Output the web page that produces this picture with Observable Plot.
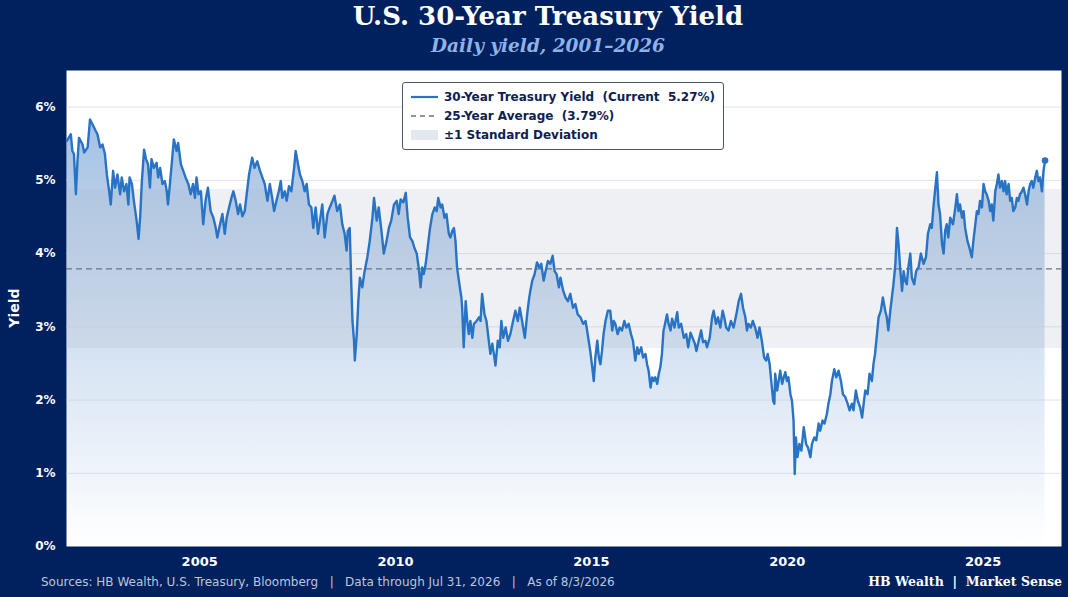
<!DOCTYPE html>
<html>
<head>
<meta charset="utf-8">
<script src="https://cdn.jsdelivr.net/npm/d3@7"></script>
<script src="https://cdn.jsdelivr.net/npm/@observablehq/plot@0.6"></script>
<style>
  html, body { margin: 0; padding: 0; }
  body { width: 1068px; height: 597px; overflow: hidden; position: relative; background: #00205e; font-family: "DejaVu Sans", sans-serif; }
  .abs { position: absolute; }
  #title { left: 0; width: 1096px; top: 1px; text-align: center; font: bold 26px "DejaVu Serif", serif; color: #ffffff; }
  #subtitle { left: 0; width: 1096px; top: 35px; text-align: center; font: italic bold 18.5px "DejaVu Serif", serif; color: #8fb2e6; }
  #chart { left: 0; top: 70px; }
  #ylabel { left: 14px; top: 308px; transform: translate(-50%, -50%) rotate(-90deg); font: bold 14px "DejaVu Sans", sans-serif; color: #fff; white-space: nowrap; }
  #legend { left: 402px; top: 82px; width: 320px; height: 66px; background: #fff; border: 1px solid #4a5568; border-radius: 3px; }
  .lrow { position: absolute; left: 0; height: 16px; width: 100%; }
  .lrow svg { position: absolute; left: 7px; top: 0; }
  .lrow span { position: absolute; left: 41px; top: 0; font: bold 12px "DejaVu Sans", sans-serif; color: #0d2150; white-space: pre; line-height: 16px; }
  #foot { left: 41px; top: 575px; font: 12px "DejaVu Sans", sans-serif; color: #bcc6dc; white-space: pre; }
  #brand { right: 6px; top: 574px; font: bold 12.5px "DejaVu Serif", serif; color: #fff; white-space: pre; }
</style>
</head>
<body>
<div id="title" class="abs">U.S. 30-Year Treasury Yield</div>
<div id="subtitle" class="abs">Daily yield, 2001–2026</div>
<div id="chart" class="abs"></div>
<div id="ylabel" class="abs">Yield</div>
<div id="legend" class="abs">
  <div class="lrow" style="top:6px"><svg width="30" height="16"><line x1="1" x2="28" y1="8" y2="8" stroke="#2873c4" stroke-width="2.2"/></svg><span>30-Year Treasury Yield  (Current  5.27%)</span></div>
  <div class="lrow" style="top:25px"><svg width="30" height="16"><line x1="1" x2="28" y1="8" y2="8" stroke="#6b7385" stroke-width="1.4" stroke-dasharray="5,4"/></svg><span>25-Year Average  (3.79%)</span></div>
  <div class="lrow" style="top:44px"><svg width="30" height="16"><rect x="1" y="3" width="27" height="10" fill="#e3e7ee"/></svg><span>±1 Standard Deviation</span></div>
</div>
<div id="foot" class="abs">Sources: HB Wealth, U.S. Treasury, Bloomberg   |   Data through Jul 31, 2026   |   As of 8/3/2026</div>
<div id="brand" class="abs">HB Wealth  |  Market Sense</div>
<script>
// Decimal year of each reading
const years = [
2001.61,2001.71,2001.75,2001.79,2001.84,2001.88,2001.92,2002.01,2002.05,2002.14,2002.20,2002.26,2002.35,2002.39,2002.46,2002.52,2002.58,2002.63,2002.69,2002.73,2002.79,2002.84,2002.90,2002.97,
2003.01,2003.07,2003.13,2003.18,2003.21,2003.27,2003.32,2003.39,2003.44,2003.48,2003.52,2003.58,2003.63,2003.68,2003.73,2003.77,2003.83,2003.90,2003.94,2003.99,
2004.05,2004.11,2004.16,2004.19,2004.24,2004.30,2004.34,2004.41,2004.45,2004.52,2004.58,2004.64,2004.71,2004.77,2004.83,2004.88,2004.92,2004.97,
2005.03,2005.09,2005.15,2005.21,2005.28,2005.35,2005.41,2005.45,2005.52,2005.58,2005.64,2005.69,2005.75,2005.81,2005.86,2005.92,2005.98,
2006.03,2006.09,2006.15,2006.20,2006.26,2006.34,2006.40,2006.47,2006.54,2006.60,2006.66,2006.73,2006.79,2006.85,2006.90,2006.96,
2007.02,2007.07,2007.11,2007.17,2007.22,2007.28,2007.34,2007.41,2007.45,2007.51,2007.56,2007.62,2007.68,2007.73,2007.79,2007.85,2007.90,2007.96,
2008.02,2008.07,2008.13,2008.19,2008.26,2008.32,2008.39,2008.44,2008.51,2008.58,2008.64,2008.70,2008.75,2008.78,2008.83,2008.87,2008.90,2008.94,2008.96,
2009.01,2009.05,2009.09,2009.15,2009.21,2009.28,2009.34,2009.41,2009.45,2009.52,2009.57,2009.64,2009.70,2009.77,2009.83,2009.89,2009.96,
2010.03,2010.08,2010.13,2010.20,2010.26,2010.31,2010.37,2010.43,2010.48,2010.54,2010.59,2010.64,2010.68,2010.72,2010.77,2010.82,2010.88,2010.94,
2011.00,2011.05,2011.09,2011.15,2011.19,2011.25,2011.30,2011.36,2011.40,2011.45,2011.49,2011.53,2011.57,2011.63,2011.68,2011.70,2011.74,2011.79,2011.83,2011.87,2011.91,2011.96,
2012.00,2012.07,2012.13,2012.17,2012.21,2012.27,2012.32,2012.38,2012.42,2012.47,2012.51,2012.55,2012.61,2012.66,2012.70,2012.75,2012.81,2012.87,2012.93,
2013.00,2013.06,2013.12,2013.17,2013.23,2013.30,2013.36,2013.40,2013.44,2013.49,2013.55,2013.61,2013.67,2013.72,2013.78,2013.83,2013.89,2013.95,
2014.01,2014.06,2014.11,2014.17,2014.21,2014.28,2014.34,2014.40,2014.46,2014.53,2014.59,2014.65,2014.72,2014.79,2014.85,2014.89,2014.93,2014.97,
2015.02,2015.06,2015.10,2015.15,2015.19,2015.23,2015.27,2015.31,2015.36,2015.42,2015.48,2015.53,2015.57,2015.61,2015.67,2015.72,2015.78,2015.84,2015.89,2015.95,
2016.01,2016.06,2016.12,2016.17,2016.21,2016.27,2016.32,2016.38,2016.42,2016.46,2016.51,2016.55,2016.59,2016.63,2016.68,2016.72,2016.76,2016.80,2016.84,2016.86,2016.93,2016.97,
2017.02,2017.06,2017.12,2017.19,2017.23,2017.29,2017.36,2017.42,2017.47,2017.53,2017.58,2017.64,2017.68,2017.74,2017.80,2017.85,2017.91,2017.95,
2018.02,2018.08,2018.12,2018.18,2018.23,2018.29,2018.35,2018.39,2018.44,2018.50,2018.56,2018.63,2018.70,2018.76,2018.82,2018.87,2018.93,2018.97,
2019.01,2019.07,2019.12,2019.18,2019.24,2019.29,2019.35,2019.41,2019.46,2019.50,2019.55,2019.59,2019.64,2019.67,2019.69,2019.74,2019.78,2019.82,2019.87,2019.91,2019.95,2019.99,
2020.03,2020.08,2020.12,2020.16,2020.19,2020.22,2020.26,2020.31,2020.36,2020.42,2020.48,2020.53,2020.59,2020.63,2020.69,2020.74,2020.80,2020.84,2020.90,2020.95,
2021.01,2021.05,2021.10,2021.14,2021.20,2021.25,2021.31,2021.37,2021.42,2021.48,2021.54,2021.59,2021.65,2021.69,2021.75,2021.80,2021.86,2021.91,2021.95,2021.99,
2022.05,2022.10,2022.16,2022.20,2022.24,2022.29,2022.33,2022.39,2022.44,2022.50,2022.54,2022.58,2022.63,2022.67,2022.71,2022.76,2022.80,2022.84,2022.88,2022.93,2022.97,
2023.01,2023.05,2023.09,2023.14,2023.18,2023.24,2023.29,2023.35,2023.41,2023.48,2023.54,2023.59,2023.65,2023.69,2023.73,2023.78,2023.82,2023.86,2023.90,2023.95,2023.99,
2024.03,2024.07,2024.11,2024.16,2024.23,2024.29,2024.33,2024.37,2024.41,2024.46,2024.50,2024.54,2024.60,2024.65,2024.71,2024.75,2024.80,2024.84,2024.88,2024.92,2024.97,
2025.01,2025.05,2025.09,2025.14,2025.18,2025.22,2025.26,2025.31,2025.35,2025.39,2025.43,2025.48,2025.52,2025.56,2025.60,2025.65,2025.69,2025.73,2025.77,2025.82,2025.86,2025.90,2025.94,2025.99,
2026.03,2026.07,2026.12,2026.16,2026.20,2026.24,2026.28,2026.33,2026.37,2026.41,2026.45,2026.50,2026.54,2026.58
];
// 30-year yield, percent
const yields = [
5.54,5.63,5.40,5.36,4.81,5.26,5.58,5.49,5.38,5.45,5.83,5.77,5.67,5.63,5.45,5.49,5.36,5.08,4.85,4.67,5.13,4.90,5.08,4.81,
5.04,4.85,4.95,4.67,5.04,4.95,4.72,4.45,4.20,4.49,4.95,5.42,5.29,5.22,4.90,5.29,5.17,5.24,5.04,5.17,
4.95,4.99,4.85,4.67,4.95,5.31,5.56,5.40,5.51,5.22,5.13,5.04,4.95,4.81,4.95,4.76,5.04,4.81,
4.85,4.40,4.72,4.90,4.58,4.49,4.35,4.22,4.40,4.54,4.27,4.49,4.63,4.76,4.85,4.72,4.54,
4.67,4.51,4.58,4.81,5.08,5.31,5.17,5.26,5.13,5.04,4.95,4.72,4.95,4.76,4.58,4.72,
4.85,4.99,4.76,4.85,4.72,4.92,4.85,5.17,5.40,5.22,5.08,4.99,4.85,4.95,4.67,4.63,4.35,4.63,
4.27,4.45,4.67,4.22,4.54,4.63,4.72,4.79,4.58,4.67,4.40,4.27,4.04,4.31,4.35,3.58,3.08,2.81,2.54,
2.90,3.35,3.67,3.54,3.76,3.95,4.17,4.49,4.76,4.45,4.63,4.31,4.00,4.17,4.35,4.45,4.67,
4.72,4.54,4.74,4.70,4.83,4.49,4.22,4.17,4.08,4.00,3.81,3.54,3.81,3.72,3.86,4.08,4.35,4.54,
4.63,4.58,4.76,4.63,4.67,4.49,4.54,4.27,4.22,4.31,4.35,4.17,3.81,3.58,3.40,3.26,2.72,3.35,3.08,2.90,3.08,2.85,
3.04,3.08,3.13,3.08,3.45,3.17,3.08,2.81,2.63,2.77,2.63,2.47,2.81,2.72,3.08,2.85,2.99,2.81,2.90,
3.08,3.22,3.08,3.26,3.08,2.85,3.17,3.35,3.49,3.63,3.72,3.88,3.81,3.86,3.63,3.76,3.90,3.86,
3.97,3.76,3.72,3.54,3.67,3.49,3.40,3.35,3.45,3.26,3.31,3.17,3.13,3.04,3.08,2.95,2.81,2.67,
2.45,2.26,2.58,2.81,2.58,2.49,2.67,2.90,3.08,3.22,3.22,2.95,3.08,3.04,2.90,2.99,2.95,3.08,2.99,3.04,
2.90,2.81,2.54,2.72,2.63,2.72,2.58,2.63,2.49,2.40,2.17,2.31,2.26,2.31,2.22,2.36,2.45,2.63,2.95,2.99,3.17,3.04,
2.95,3.11,2.99,3.20,2.99,3.04,2.85,2.90,2.72,2.92,2.85,2.77,2.67,2.81,2.95,2.79,2.81,2.72,
2.85,3.13,3.22,3.04,3.13,2.99,3.22,3.13,2.99,2.95,3.08,2.99,3.17,3.35,3.45,3.26,3.13,2.95,
3.04,2.99,3.08,2.99,2.85,2.99,2.81,2.58,2.54,2.63,2.49,2.26,1.99,1.95,2.36,2.13,2.26,2.40,2.22,2.31,2.38,2.26,
2.31,2.08,1.99,1.72,0.99,1.49,1.22,1.40,1.31,1.63,1.40,1.35,1.22,1.40,1.49,1.45,1.68,1.58,1.72,1.68,
1.81,1.95,2.08,2.26,2.42,2.31,2.40,2.26,2.08,2.04,1.95,1.86,1.95,1.86,2.13,1.99,1.90,1.76,1.95,2.13,
2.08,2.36,2.26,2.49,2.63,2.90,3.13,3.22,3.40,3.22,3.13,2.95,3.22,3.40,3.58,3.86,4.35,4.13,3.81,3.49,3.76,
3.63,3.58,3.81,4.00,3.67,3.58,3.76,3.81,4.00,3.86,3.95,4.27,4.40,4.35,4.63,4.90,5.11,4.67,4.54,4.13,4.00,
4.31,4.40,4.22,4.49,4.40,4.63,4.81,4.58,4.67,4.49,4.58,4.35,4.17,4.08,3.95,4.17,4.40,4.58,4.54,4.72,4.63,
4.95,4.85,4.81,4.72,4.58,4.67,4.45,4.85,4.95,5.08,4.90,4.99,4.85,4.99,4.81,4.95,4.72,4.76,4.58,4.63,4.76,4.72,4.81,4.85,
4.90,4.81,4.67,4.85,4.95,4.99,4.90,5.04,5.13,4.99,5.04,4.85,5.13,5.27
];
const averageYield = 3.79;
const stdDevYield = 1.085;
const yearTicks = [2005, 2010, 2015, 2020, 2025];
const yieldTicks = [0, 1, 2, 3, 4, 5, 6];

const data = years.map((y, i) => ({year: y, yield: yields[i]}));
const last = data[data.length - 1];
const xDomain = [2001.6, 2027.0];

const LINE = "#2873c4";

const gradientDefs = () => {
  const g = d3.create("svg:g");
  const grad = g.append("defs").append("linearGradient")
    .attr("id", "yieldGrad").attr("x1", 0).attr("x2", 0).attr("y1", 0).attr("y2", 1);
  grad.append("stop").attr("offset", "0%").attr("stop-color", "#2c6fc0").attr("stop-opacity", 0.43);
  grad.append("stop").attr("offset", "100%").attr("stop-color", "#2c6fc0").attr("stop-opacity", 0.0);
  return g.node();
};

const chart = Plot.plot({
  width: 1068,
  height: 527,
  marginTop: 0,
  marginLeft: 66,
  marginRight: 7,
  marginBottom: 51,
  style: {background: "transparent", color: "#ffffff", fontFamily: "DejaVu Sans, sans-serif"},
  x: {type: "linear", domain: xDomain, label: null},
  y: {domain: [0, 6.5], label: null},
  marks: [
    gradientDefs,
    Plot.frame({fill: "#ffffff", stroke: "none"}),
    Plot.areaY(data, {x: "year", y: "yield", fill: "url(#yieldGrad)", curve: "linear"}),
    Plot.rect([{lo: averageYield - stdDevYield, hi: averageYield + stdDevYield}], {
      x1: () => xDomain[0], x2: () => xDomain[1], y1: "lo", y2: "hi",
      fill: "#a9b3c4", fillOpacity: 0.2
    }),
    Plot.ruleY(yieldTicks.filter(d => d > 0), {stroke: "#c3cbd8", strokeOpacity: 0.55, strokeWidth: 1}),
    Plot.ruleY([averageYield], {stroke: "#6b7385", strokeWidth: 1.3, strokeDasharray: "6,4"}),
    Plot.lineY(data, {x: "year", y: "yield", stroke: LINE, strokeWidth: 2.4, strokeLinejoin: "round"}),
    Plot.dot([last], {x: "year", y: "yield", r: 3.3, fill: LINE, stroke: "none"}),
    Plot.axisX({ticks: yearTicks, tickFormat: d3.format("d"), tickSize: 0, tickPadding: 10,
      fontSize: 13, fontWeight: "bold", fill: "#ffffff"}),
    Plot.axisY({ticks: yieldTicks, tickFormat: d => d + "%", tickSize: 0, tickPadding: 11,
      fontSize: 12, fontWeight: "bold", fill: "#ffffff"})
  ]
});
document.getElementById("chart").appendChild(chart);
</script>
</body>
</html>
